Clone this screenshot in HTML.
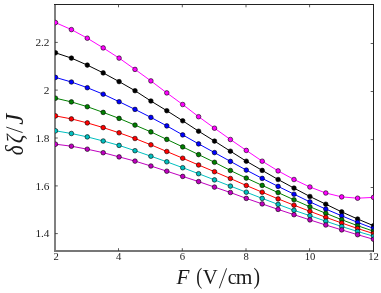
<!DOCTYPE html>
<html><head><meta charset="utf-8"><title>chart</title>
<style>
html,body{margin:0;padding:0;background:#fff;}
body{width:381px;height:293px;overflow:hidden;font-family:"Liberation Serif",serif;}
svg{display:block;will-change:transform;}
text{font-family:"Liberation Serif",serif;fill:#1a1a1a;}
</style></head><body>
<svg width="381" height="293" viewBox="0 0 381 293">
<rect x="0" y="0" width="381" height="293" fill="#ffffff"/>
<defs><clipPath id="ax"><rect x="55.0" y="4.5" width="318.5" height="246.5"/></clipPath></defs>
<g shape-rendering="crispEdges">
<rect x="54" y="4" width="2" height="248" fill="#808080"/>
<rect x="54" y="250" width="320" height="2" fill="#777777"/>
<rect x="54" y="4" width="320" height="1" fill="#222222"/>
<rect x="373" y="4" width="1" height="248" fill="#222222"/>
</g>
<g stroke="#333" stroke-width="0.8">
<line x1="55.0" y1="42.4" x2="57.8" y2="42.4"/><line x1="55.0" y1="90.1" x2="57.8" y2="90.1"/><line x1="55.0" y1="138.0" x2="57.8" y2="138.0"/><line x1="55.0" y1="185.9" x2="57.8" y2="185.9"/><line x1="55.0" y1="233.6" x2="57.8" y2="233.6"/><line x1="373.5" y1="43.5" x2="370.7" y2="43.5"/><line x1="373.5" y1="91.5" x2="370.7" y2="91.5"/><line x1="373.5" y1="139.6" x2="370.7" y2="139.6"/><line x1="373.5" y1="187.5" x2="370.7" y2="187.5"/><line x1="373.5" y1="235.3" x2="370.7" y2="235.3"/><line x1="118.5" y1="251.0" x2="118.5" y2="248.2"/><line x1="118.5" y1="4.5" x2="118.5" y2="7.3"/><line x1="182.3" y1="251.0" x2="182.3" y2="248.2"/><line x1="182.3" y1="4.5" x2="182.3" y2="7.3"/><line x1="246.0" y1="251.0" x2="246.0" y2="248.2"/><line x1="246.0" y1="4.5" x2="246.0" y2="7.3"/><line x1="309.6" y1="251.0" x2="309.6" y2="248.2"/><line x1="309.6" y1="4.5" x2="309.6" y2="7.3"/></g>
<g clip-path="url(#ax)">
<polyline points="55.5,22.6 71.4,29.6 87.3,38.2 103.2,47.9 119.1,58.1 135.0,69.4 150.9,80.9 166.8,92.9 182.7,104.5 198.6,116.7 214.5,128.2 230.4,139.5 246.3,150.4 262.2,161.2 278.1,170.9 294.0,179.5 309.9,187.0 325.8,193.0 341.7,196.9 357.6,198.2 373.5,197.4" fill="none" stroke="#ff00ff" stroke-width="1" stroke-linejoin="round"/>
<g fill="#ff00ff" stroke="#000" stroke-width="0.6"><circle cx="55.5" cy="22.6" r="2.3"/><circle cx="71.4" cy="29.6" r="2.3"/><circle cx="87.3" cy="38.2" r="2.3"/><circle cx="103.2" cy="47.9" r="2.3"/><circle cx="119.1" cy="58.1" r="2.3"/><circle cx="135.0" cy="69.4" r="2.3"/><circle cx="150.9" cy="80.9" r="2.3"/><circle cx="166.8" cy="92.9" r="2.3"/><circle cx="182.7" cy="104.5" r="2.3"/><circle cx="198.6" cy="116.7" r="2.3"/><circle cx="214.5" cy="128.2" r="2.3"/><circle cx="230.4" cy="139.5" r="2.3"/><circle cx="246.3" cy="150.4" r="2.3"/><circle cx="262.2" cy="161.2" r="2.3"/><circle cx="278.1" cy="170.9" r="2.3"/><circle cx="294.0" cy="179.5" r="2.3"/><circle cx="309.9" cy="187.0" r="2.3"/><circle cx="325.8" cy="193.0" r="2.3"/><circle cx="341.7" cy="196.9" r="2.3"/><circle cx="357.6" cy="198.2" r="2.3"/><circle cx="373.5" cy="197.4" r="2.3"/></g>
<polyline points="55.5,52.8 71.4,58.1 87.3,65.1 103.2,72.9 119.1,81.6 135.0,90.7 150.9,101.0 166.8,110.7 182.7,120.8 198.6,131.2 214.5,141.1 230.4,151.2 246.3,161.2 262.2,170.4 278.1,179.5 294.0,188.1 309.9,196.5 325.8,204.2 341.7,211.9 357.6,219.0 373.5,225.7" fill="none" stroke="#000000" stroke-width="1" stroke-linejoin="round"/>
<g fill="#000000" stroke="#000" stroke-width="0.6"><circle cx="55.5" cy="52.8" r="2.3"/><circle cx="71.4" cy="58.1" r="2.3"/><circle cx="87.3" cy="65.1" r="2.3"/><circle cx="103.2" cy="72.9" r="2.3"/><circle cx="119.1" cy="81.6" r="2.3"/><circle cx="135.0" cy="90.7" r="2.3"/><circle cx="150.9" cy="101.0" r="2.3"/><circle cx="166.8" cy="110.7" r="2.3"/><circle cx="182.7" cy="120.8" r="2.3"/><circle cx="198.6" cy="131.2" r="2.3"/><circle cx="214.5" cy="141.1" r="2.3"/><circle cx="230.4" cy="151.2" r="2.3"/><circle cx="246.3" cy="161.2" r="2.3"/><circle cx="262.2" cy="170.4" r="2.3"/><circle cx="278.1" cy="179.5" r="2.3"/><circle cx="294.0" cy="188.1" r="2.3"/><circle cx="309.9" cy="196.5" r="2.3"/><circle cx="325.8" cy="204.2" r="2.3"/><circle cx="341.7" cy="211.9" r="2.3"/><circle cx="357.6" cy="219.0" r="2.3"/><circle cx="373.5" cy="225.7" r="2.3"/></g>
<polyline points="55.5,77.4 71.4,82.0 87.3,87.7 103.2,94.2 119.1,101.7 135.0,109.4 150.9,117.4 166.8,125.9 182.7,134.9 198.6,143.9 214.5,152.6 230.4,161.4 246.3,170.1 262.2,178.4 278.1,186.4 294.0,194.2 309.9,201.9 325.8,209.1 341.7,215.8 357.6,222.4 373.5,228.4" fill="none" stroke="#0000ff" stroke-width="1" stroke-linejoin="round"/>
<g fill="#0000ff" stroke="#000" stroke-width="0.6"><circle cx="55.5" cy="77.4" r="2.3"/><circle cx="71.4" cy="82.0" r="2.3"/><circle cx="87.3" cy="87.7" r="2.3"/><circle cx="103.2" cy="94.2" r="2.3"/><circle cx="119.1" cy="101.7" r="2.3"/><circle cx="135.0" cy="109.4" r="2.3"/><circle cx="150.9" cy="117.4" r="2.3"/><circle cx="166.8" cy="125.9" r="2.3"/><circle cx="182.7" cy="134.9" r="2.3"/><circle cx="198.6" cy="143.9" r="2.3"/><circle cx="214.5" cy="152.6" r="2.3"/><circle cx="230.4" cy="161.4" r="2.3"/><circle cx="246.3" cy="170.1" r="2.3"/><circle cx="262.2" cy="178.4" r="2.3"/><circle cx="278.1" cy="186.4" r="2.3"/><circle cx="294.0" cy="194.2" r="2.3"/><circle cx="309.9" cy="201.9" r="2.3"/><circle cx="325.8" cy="209.1" r="2.3"/><circle cx="341.7" cy="215.8" r="2.3"/><circle cx="357.6" cy="222.4" r="2.3"/><circle cx="373.5" cy="228.4" r="2.3"/></g>
<polyline points="55.5,98.2 71.4,101.9 87.3,106.7 103.2,112.4 119.1,118.4 135.0,125.1 150.9,131.9 166.8,139.4 182.7,146.9 198.6,154.6 214.5,162.3 230.4,170.5 246.3,178.1 262.2,185.4 278.1,192.6 294.0,199.8 309.9,206.8 325.8,213.3 341.7,219.7 357.6,225.7 373.5,231.2" fill="none" stroke="#008000" stroke-width="1" stroke-linejoin="round"/>
<g fill="#008000" stroke="#000" stroke-width="0.6"><circle cx="55.5" cy="98.2" r="2.3"/><circle cx="71.4" cy="101.9" r="2.3"/><circle cx="87.3" cy="106.7" r="2.3"/><circle cx="103.2" cy="112.4" r="2.3"/><circle cx="119.1" cy="118.4" r="2.3"/><circle cx="135.0" cy="125.1" r="2.3"/><circle cx="150.9" cy="131.9" r="2.3"/><circle cx="166.8" cy="139.4" r="2.3"/><circle cx="182.7" cy="146.9" r="2.3"/><circle cx="198.6" cy="154.6" r="2.3"/><circle cx="214.5" cy="162.3" r="2.3"/><circle cx="230.4" cy="170.5" r="2.3"/><circle cx="246.3" cy="178.1" r="2.3"/><circle cx="262.2" cy="185.4" r="2.3"/><circle cx="278.1" cy="192.6" r="2.3"/><circle cx="294.0" cy="199.8" r="2.3"/><circle cx="309.9" cy="206.8" r="2.3"/><circle cx="325.8" cy="213.3" r="2.3"/><circle cx="341.7" cy="219.7" r="2.3"/><circle cx="357.6" cy="225.7" r="2.3"/><circle cx="373.5" cy="231.2" r="2.3"/></g>
<polyline points="55.5,115.9 71.4,118.9 87.3,122.9 103.2,127.6 119.1,132.8 135.0,138.5 150.9,144.8 166.8,151.5 182.7,158.2 198.6,165.0 214.5,171.7 230.4,178.5 246.3,185.5 262.2,192.2 278.1,198.9 294.0,205.2 309.9,211.3 325.8,217.3 341.7,223.0 357.6,228.5 373.5,233.6" fill="none" stroke="#ff0000" stroke-width="1" stroke-linejoin="round"/>
<g fill="#ff0000" stroke="#000" stroke-width="0.6"><circle cx="55.5" cy="115.9" r="2.3"/><circle cx="71.4" cy="118.9" r="2.3"/><circle cx="87.3" cy="122.9" r="2.3"/><circle cx="103.2" cy="127.6" r="2.3"/><circle cx="119.1" cy="132.8" r="2.3"/><circle cx="135.0" cy="138.5" r="2.3"/><circle cx="150.9" cy="144.8" r="2.3"/><circle cx="166.8" cy="151.5" r="2.3"/><circle cx="182.7" cy="158.2" r="2.3"/><circle cx="198.6" cy="165.0" r="2.3"/><circle cx="214.5" cy="171.7" r="2.3"/><circle cx="230.4" cy="178.5" r="2.3"/><circle cx="246.3" cy="185.5" r="2.3"/><circle cx="262.2" cy="192.2" r="2.3"/><circle cx="278.1" cy="198.9" r="2.3"/><circle cx="294.0" cy="205.2" r="2.3"/><circle cx="309.9" cy="211.3" r="2.3"/><circle cx="325.8" cy="217.3" r="2.3"/><circle cx="341.7" cy="223.0" r="2.3"/><circle cx="357.6" cy="228.5" r="2.3"/><circle cx="373.5" cy="233.6" r="2.3"/></g>
<polyline points="55.5,130.8 71.4,133.5 87.3,136.9 103.2,141.0 119.1,145.4 135.0,150.7 150.9,156.2 166.8,161.8 182.7,167.7 198.6,173.7 214.5,179.9 230.4,186.1 246.3,192.2 262.2,198.4 278.1,204.4 294.0,210.3 309.9,215.7 325.8,221.2 341.7,226.5 357.6,231.5 373.5,236.2" fill="none" stroke="#00bfbf" stroke-width="1" stroke-linejoin="round"/>
<g fill="#00bfbf" stroke="#000" stroke-width="0.6"><circle cx="55.5" cy="130.8" r="2.3"/><circle cx="71.4" cy="133.5" r="2.3"/><circle cx="87.3" cy="136.9" r="2.3"/><circle cx="103.2" cy="141.0" r="2.3"/><circle cx="119.1" cy="145.4" r="2.3"/><circle cx="135.0" cy="150.7" r="2.3"/><circle cx="150.9" cy="156.2" r="2.3"/><circle cx="166.8" cy="161.8" r="2.3"/><circle cx="182.7" cy="167.7" r="2.3"/><circle cx="198.6" cy="173.7" r="2.3"/><circle cx="214.5" cy="179.9" r="2.3"/><circle cx="230.4" cy="186.1" r="2.3"/><circle cx="246.3" cy="192.2" r="2.3"/><circle cx="262.2" cy="198.4" r="2.3"/><circle cx="278.1" cy="204.4" r="2.3"/><circle cx="294.0" cy="210.3" r="2.3"/><circle cx="309.9" cy="215.7" r="2.3"/><circle cx="325.8" cy="221.2" r="2.3"/><circle cx="341.7" cy="226.5" r="2.3"/><circle cx="357.6" cy="231.5" r="2.3"/><circle cx="373.5" cy="236.2" r="2.3"/></g>
<polyline points="55.5,144.2 71.4,146.2 87.3,149.2 103.2,152.7 119.1,156.9 135.0,161.1 150.9,166.0 166.8,171.2 182.7,176.4 198.6,181.6 214.5,187.1 230.4,192.5 246.3,198.4 262.2,203.9 278.1,209.4 294.0,214.7 309.9,219.9 325.8,225.0 341.7,229.9 357.6,234.7 373.5,239.3" fill="none" stroke="#bf00bf" stroke-width="1" stroke-linejoin="round"/>
<g fill="#bf00bf" stroke="#000" stroke-width="0.6"><circle cx="55.5" cy="144.2" r="2.3"/><circle cx="71.4" cy="146.2" r="2.3"/><circle cx="87.3" cy="149.2" r="2.3"/><circle cx="103.2" cy="152.7" r="2.3"/><circle cx="119.1" cy="156.9" r="2.3"/><circle cx="135.0" cy="161.1" r="2.3"/><circle cx="150.9" cy="166.0" r="2.3"/><circle cx="166.8" cy="171.2" r="2.3"/><circle cx="182.7" cy="176.4" r="2.3"/><circle cx="198.6" cy="181.6" r="2.3"/><circle cx="214.5" cy="187.1" r="2.3"/><circle cx="230.4" cy="192.5" r="2.3"/><circle cx="246.3" cy="198.4" r="2.3"/><circle cx="262.2" cy="203.9" r="2.3"/><circle cx="278.1" cy="209.4" r="2.3"/><circle cx="294.0" cy="214.7" r="2.3"/><circle cx="309.9" cy="219.9" r="2.3"/><circle cx="325.8" cy="225.0" r="2.3"/><circle cx="341.7" cy="229.9" r="2.3"/><circle cx="357.6" cy="234.7" r="2.3"/><circle cx="373.5" cy="239.3" r="2.3"/></g>
</g>
<g font-size="11.3" text-anchor="end">
<text transform="translate(49.5,46.2) scale(1,1)">2.2</text><text transform="translate(49.5,93.9) scale(1,1)">2</text><text transform="translate(49.5,141.8) scale(1,1)">1.8</text><text transform="translate(49.5,189.7) scale(1,1)">1.6</text><text transform="translate(49.5,237.4) scale(1,1)">1.4</text></g>
<g font-size="11" text-anchor="middle">
<text transform="translate(56.1,260.2) scale(0.97,1)">2</text><text transform="translate(118.7,260.2) scale(0.97,1)">4</text><text transform="translate(182.4,260.2) scale(0.97,1)">6</text><text transform="translate(246.1,260.2) scale(0.97,1)">8</text><text transform="translate(310.0,260.2) scale(0.97,1)">10</text><text transform="translate(373.6,260.2) scale(0.97,1)">12</text></g>
<g>
<text transform="translate(176.51,283.70) scale(1.056,1.046)" font-size="20" font-style="italic">F</text><text transform="translate(196.19,283.70) scale(0.889,1.114)" font-size="20">(</text><text transform="translate(202.79,283.70) scale(1.035,1.046)" font-size="20">V</text><line x1="219.3" y1="288.3" x2="226.6" y2="268.3" stroke="#1a1a1a" stroke-width="0.9"/><text transform="translate(227.71,283.70) scale(0.987,1.000)" font-size="20">c</text><text transform="translate(235.87,283.70) scale(1.073,1.000)" font-size="20">m</text><text transform="translate(253.41,283.70) scale(0.981,1.114)" font-size="20">)</text>
</g>
<g transform="translate(22.6,0) rotate(-90)">
<text transform="translate(-155.33,0.00) scale(0.888,1.060)" font-size="24" font-style="italic">δ</text><text transform="translate(-143.24,-1.00) scale(0.890,0.970)" font-size="24" font-style="italic">ζ</text><text transform="translate(-124.85,0.00) scale(1.033,1.040)" font-size="24" font-style="italic">J</text>
</g>
<line x1="22.6" y1="132.6" x2="6.3" y2="127.1" stroke="#1a1a1a" stroke-width="0.9"/>
</svg>
</body></html>
